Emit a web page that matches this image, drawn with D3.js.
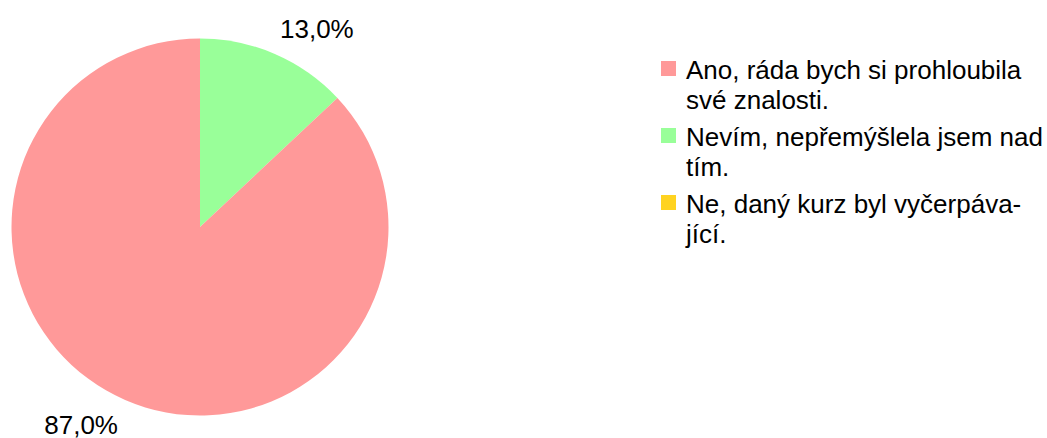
<!DOCTYPE html>
<html>
<head>
<meta charset="utf-8">
<script src="https://cdn.jsdelivr.net/npm/d3@7"></script>
<style>
  body { margin: 0; background: #fff; }
  svg { display: block; font-family: "Liberation Sans", Arial, sans-serif; }
</style>
</head>
<body>
<div id="chart"></div>
<script>
var categories = [
    ["Ano, ráda bych si prohloubila", "své znalosti."],
    ["Nevím, nepřemýšlela jsem nad", "tím."],
    ["Ne, daný kurz byl vyčerpáva-", "jící."]
];
var values = [87.0, 13.0, 0.0];
var colors = ["#ff9999", "#99ff99", "#ffd320"];

var width = 1047,
    height = 438,
    cx = 200,
    cy = 227,
    radius = 188.5,
    fontSize = 26;

var svg = d3.select("#chart").append("svg")
    .attr("width", width)
    .attr("height", height);

// start at 12 o'clock, green slice clockwise first, then the big pink one
var pie = d3.pie()
    .sort(null)
    .value(function (d) { return d.v; })
    .startAngle(0)
    .endAngle(2 * Math.PI);

var order = [1, 0, 2];
var data = order.map(function (i) { return { v: values[i], c: colors[i], i: i }; });
var arcs = pie(data);

var arc = d3.arc().innerRadius(0).outerRadius(radius);

var g = svg.append("g")
    .attr("transform", "translate(" + cx + "," + cy + ")");

g.selectAll("path")
    .data(arcs.filter(function (a) { return a.data.v > 0; }))
    .enter()
    .append("path")
    .attr("d", arc)
    .attr("fill", function (d) { return d.data.c; });

// percentage labels sit just outside the rim
g.selectAll(".pct")
    .data(arcs.filter(function (a) { return a.data.v > 0; }))
    .enter()
    .append("text")
    .attr("class", "pct")
    .attr("font-size", fontSize)
    .attr("fill", "#000")
    .attr("text-anchor", function (d) {
        var mid = (d.startAngle + d.endAngle) / 2;
        return Math.sin(mid) > 0 ? "start" : "end";
    })
    .attr("x", function (d) {
        var mid = (d.startAngle + d.endAngle) / 2;
        return Math.sin(mid) > 0 ? 80 : -82;
    })
    .attr("y", function (d) {
        var mid = (d.startAngle + d.endAngle) / 2;
        return Math.cos(mid) > 0 ? -189 : 207;
    })
    .text(function (d) { return d3.format(".1f")(d.data.v).replace(".", ",") + "%"; });

// legend
var legendX = 661,
    legendY = 61,
    itemStep = 67,
    lineStep = 29.5,
    box = 15;

var items = svg.selectAll(".legend")
    .data(categories)
    .enter()
    .append("g")
    .attr("class", "legend")
    .attr("transform", function (d, i) { return "translate(" + legendX + "," + (legendY + i * itemStep) + ")"; });

items.append("rect")
    .attr("width", box)
    .attr("height", box)
    .attr("fill", function (d, i) { return colors[i]; });

items.append("text")
    .attr("font-size", fontSize)
    .attr("fill", "#000")
    .selectAll("tspan")
    .data(function (d) { return d; })
    .enter()
    .append("tspan")
    .attr("x", 25)
    .attr("y", function (d, j) { return 18 + j * lineStep; })
    .text(function (d) { return d; });
</script>
</body>
</html>
